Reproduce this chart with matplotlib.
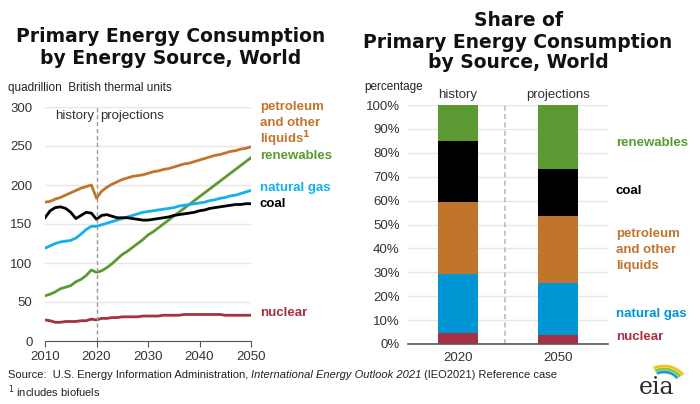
import numpy as np
import matplotlib
matplotlib.use('Agg')
import matplotlib.pyplot as plt
from matplotlib.patches import Arc

# --- data ---
years = list(range(2010, 2051))
petroleum = [178, 179, 182, 184, 187, 190, 193, 196, 198, 200, 183, 192, 197, 201, 204,
             207, 209, 211, 212, 213, 215, 217, 218, 220, 221, 223, 225, 227, 228, 230,
             232, 234, 236, 238, 239, 241, 243, 244, 246, 247, 249]
renewables = [58, 60, 63, 67, 69, 71, 76, 79, 84, 91, 88, 90, 94, 99, 105,
              111, 115, 120, 125, 130, 136, 140, 145, 150, 155, 160, 165, 170, 175, 180,
              185, 190, 195, 200, 205, 210, 215, 220, 225, 230, 235]
natural_gas = [119, 122, 125, 127, 128, 129, 132, 137, 143, 147, 147, 149, 151, 153, 155,
               157, 159, 161, 163, 165, 166, 167, 168, 169, 170, 171, 173, 174, 175, 176,
               177, 178, 180, 181, 183, 184, 186, 187, 189, 191, 193]
coal = [158, 167, 171, 172, 170, 165, 157, 161, 165, 164, 156, 161, 162, 160, 158,
        158, 158, 157, 156, 155, 155, 156, 157, 158, 159, 161, 162, 163, 164, 165,
        167, 168, 170, 171, 172, 173, 174, 175, 175, 176, 176]
nuclear = [27, 26, 24, 24, 25, 25, 25, 26, 26, 28, 27, 29, 29, 30, 30,
           31, 31, 31, 31, 32, 32, 32, 32, 33, 33, 33, 33, 34, 34, 34,
           34, 34, 34, 34, 34, 33, 33, 33, 33, 33, 33]

share_years = ['2020', '2050']
share_nuclear = [4.6, 3.8]
share_gas = [24.6, 21.6]
share_petroleum = [30.1, 28.0]
share_coal = [25.8, 19.9]
share_renewables = [14.9, 26.7]

C_PET = '#c0742c'
C_REN = '#5b9a32'
C_GAS_LINE = '#12b0ec'
C_GAS_BAR = '#0096d6'
C_COAL = '#000000'
C_NUC = '#a6303f'
GRID = '#e6e6e6'
TICK = '#333333'

plt.rcParams['font.family'] = ['Liberation Sans', 'DejaVu Sans']
fig = plt.figure(figsize=(7.0, 4.04), dpi=100)

# ---------- left: lines ----------
ax = fig.add_axes([45/700, 1-341/404, 206/700, 234/404])
ax.plot(years, petroleum, color=C_PET, lw=2)
ax.plot(years, renewables, color=C_REN, lw=2)
ax.plot(years, natural_gas, color=C_GAS_LINE, lw=2)
ax.plot(years, coal, color=C_COAL, lw=2)
ax.plot(years, nuclear, color=C_NUC, lw=2)
ax.axvline(2020, ymin=0, ymax=1, color='#999999', lw=1, ls=(0, (3, 2)))
ax.set_xlim(2010, 2050)
ax.set_ylim(0, 300)
ax.set_xticks([2010, 2020, 2030, 2040, 2050])
ax.set_yticks(range(0, 301, 50))
ax.grid(axis='y', color=GRID, lw=1)
ax.set_axisbelow(True)
for s in ['top', 'right', 'left']:
    ax.spines[s].set_visible(False)
ax.spines['bottom'].set_color('#555555')
ax.tick_params(axis='y', length=0, labelsize=9.5, colors=TICK, pad=9)
ax.tick_params(axis='x', length=4, labelsize=9.5, colors=TICK, color='#555555')
ax.text(2012, 288, 'history', fontsize=9.5, ha='left', va='center', color=TICK)
ax.text(2020.7, 288, 'projections', fontsize=9.5, ha='left', va='center', color=TICK)

lab = dict(fontsize=9.5, fontweight='bold', ha='left', va='center',
           transform=fig.transFigure)
fig.text(260/700, 1-107/404, 'petroleum', color=C_PET, **lab)
fig.text(260/700, 1-123/404, 'and other', color=C_PET, **lab)
fig.text(260/700, 1-139/404, 'liquids$^\\mathbf{1}$', color=C_PET, **lab)
fig.text(260/700, 1-156/404, 'renewables', color=C_REN, **lab)
fig.text(260/700, 1-188/404, 'natural gas', color=C_GAS_LINE, **lab)
fig.text(260/700, 1-204/404, 'coal', color=C_COAL, **lab)
fig.text(260/700, 1-313/404, 'nuclear', color=C_NUC, **lab)

fig.text(8/700, 1-88/404, 'quadrillion  British thermal units', fontsize=8.5,
         color='#222222', ha='left', va='center')

# ---------- right: stacked bars ----------
bx = fig.add_axes([408/700, 1-344/404, 200/700, 239/404])
xpos = [0.5, 1.5]
bottom = np.zeros(2)
for vals, col in [(share_nuclear, C_NUC), (share_gas, C_GAS_BAR),
                  (share_petroleum, C_PET), (share_coal, C_COAL),
                  (share_renewables, C_REN)]:
    bx.bar(xpos, vals, bottom=bottom, width=0.4, color=col, zorder=3)
    bottom = bottom + np.array(vals)
bx.axvline(0.97, color='#bbbbbb', lw=1.2, ls=(0, (3, 2)), zorder=2)
bx.set_xlim(0, 2)
bx.set_ylim(0, 100)
bx.set_yticks(range(0, 101, 10))
bx.set_yticklabels([f'{v}%' for v in range(0, 101, 10)])
bx.set_xticks(xpos)
bx.set_xticklabels(share_years)
bx.grid(axis='y', color=GRID, lw=1, zorder=0)
for s in ['top', 'right', 'left']:
    bx.spines[s].set_visible(False)
bx.spines['bottom'].set_color('#555555')
bx.spines['bottom'].set_linewidth(1.2)
bx.spines['bottom'].set_zorder(4)
bx.tick_params(axis='both', length=0, labelsize=9.5, colors=TICK)
bx.tick_params(axis='y', pad=6)
bx.tick_params(axis='x', pad=6)
bx.text(0.5, 101.5, 'history', fontsize=9.5, ha='center', va='bottom', color=TICK)
bx.text(1.5, 101.5, 'projections', fontsize=9.5, ha='center', va='bottom', color=TICK)

fig.text(616/700, 1-143/404, 'renewables', color=C_REN, **lab)
fig.text(616/700, 1-191/404, 'coal', color=C_COAL, **lab)
fig.text(616/700, 1-234/404, 'petroleum', color=C_PET, **lab)
fig.text(616/700, 1-250/404, 'and other', color=C_PET, **lab)
fig.text(616/700, 1-266/404, 'liquids', color=C_PET, **lab)
fig.text(616/700, 1-314/404, 'natural gas', color=C_GAS_BAR, **lab)
fig.text(616/700, 1-337/404, 'nuclear', color=C_NUC, **lab)

fig.text(364/700, 1-87/404, 'percentage', fontsize=8.5, color='#222222',
         ha='left', va='center')

# ---------- titles ----------
tt = dict(fontsize=13.5, fontweight='bold', ha='center', va='center',
          family=['DejaVu Sans'], color='#111111')
fig.text(171/700, 1-37/404, 'Primary Energy Consumption', **tt)
fig.text(171/700, 1-58/404, 'by Energy Source, World', **tt)
fig.text(518/700, 1-21/404, 'Share of', **tt)
fig.text(518/700, 1-42/404, 'Primary Energy Consumption', **tt)
fig.text(518/700, 1-63/404, 'by Source, World', **tt)

# ---------- source ----------
src = dict(fontsize=8, ha='left', va='center', color='#222222',
           family=['Liberation Sans Narrow', 'Liberation Sans', 'DejaVu Sans'])
s0 = fig.text(8/700, 1-375/404, 'Source:  U.S. Energy Information Administration, ', **src)
fig.canvas.draw()
r = fig.canvas.get_renderer()
w0 = s0.get_window_extent(r).x1
it = fig.text(w0/700, 1-375/404, 'International Energy Outlook 2021', style='italic', **src)
fig.canvas.draw()
w1 = it.get_window_extent(r).x1
fig.text(w1/700 + 2/700, 1-375/404, '(IEO2021) Reference case', **src)
fig.text(8/700, 1-392/404, '$^1$ includes biofuels', **src)

# ---------- eia logo ----------
fig.text(657/700, 1-387/404, 'eia', fontsize=17, family='DejaVu Serif',
         color='#2b2b2b', ha='center', va='center')
for rr, col in [(20, '#f2c21b'), (17, '#8cc63f'), (14, '#1f9bd7')]:
    fig.add_artist(Arc((664, 404 - 386), rr * 2.3, rr * 2.0, theta1=30, theta2=120,
                       transform=None, color=col, lw=2))

fig.savefig('out.png', dpi=100)
